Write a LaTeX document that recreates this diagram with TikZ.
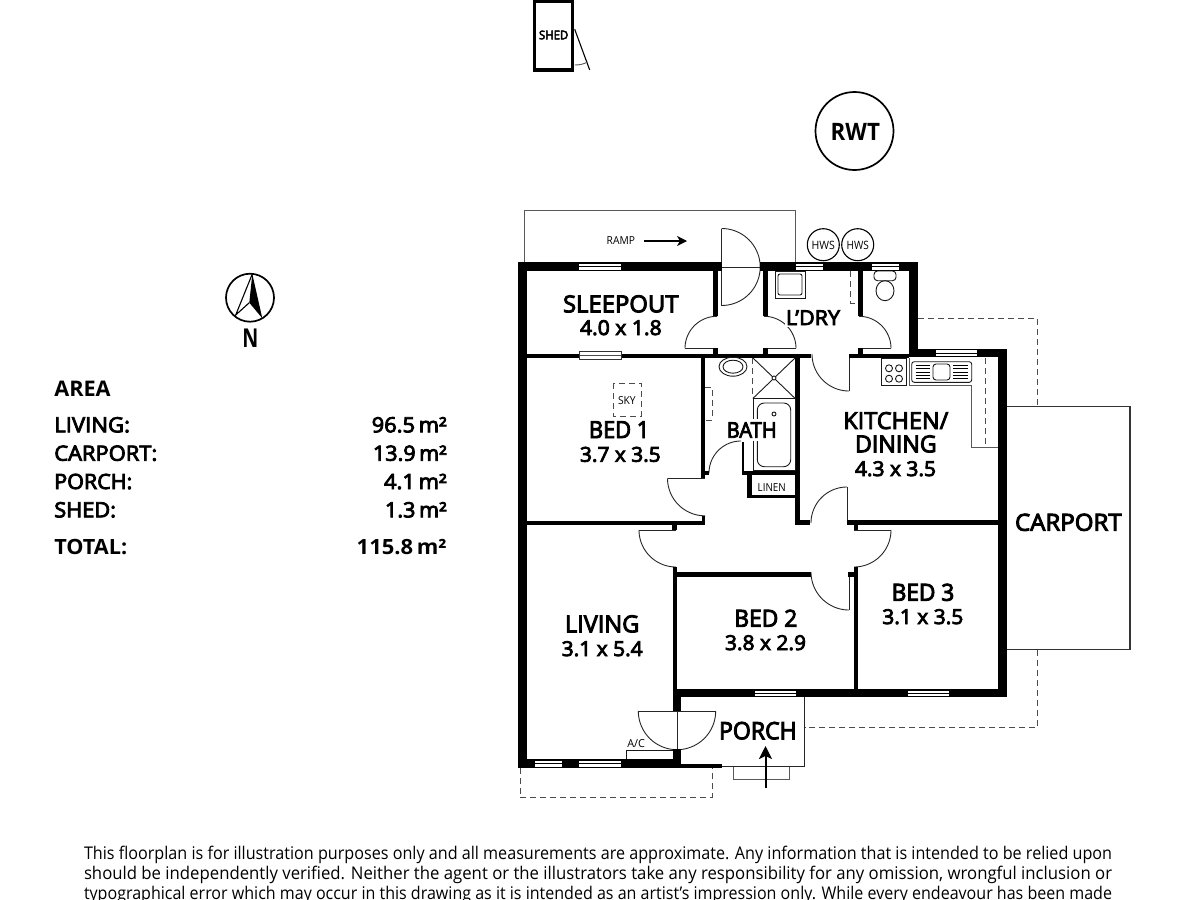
\documentclass[tikz,border=0pt]{standalone}
\usepackage{fontspec}
\usepackage{graphicx}
\usetikzlibrary{arrows.meta}
\setmainfont{Open Sans}
\newfontfamily\semi{Open Sans}[FakeBold=4]
\newfontfamily\hvy{Open Sans Bold}
\newcommand{\tlab}[7][\semi]{%
  \node[anchor=base west,inner sep=0pt,outer sep=0pt] (#2) at (#3,#5)
    {\resizebox{\dimexpr #4pt-#3pt\relax}{\height}{\fontsize{#6}{#6}\selectfont #1\strut #7}};}
\newcommand{\win}[4]{%
  \fill[white] (#1,#3) rectangle (#2,#4);
  \draw[line width=1pt,black] (#1,{(#3+#4)/2}) -- (#2,{(#3+#4)/2});}
\newcommand{\wl}[4]{\fill[black] (#1,#2) rectangle (#3,#4);}
\newcommand{\swing}[5]{\draw[thin line] plot[domain=#4:#5,samples=40] ({#1+#3*cos(\x)},{#2+#3*sin(\x)});}
\tikzset{
  thin line/.style={line width=0.9pt,draw=black!85},
  grey line/.style={line width=0.9pt,draw=black!65},
  dash line/.style={line width=1pt,draw=black!70,dash pattern=on 6pt off 4pt},
  fix line/.style={line width=0.9pt,draw=black!90}
}
\begin{document}
\begin{tikzpicture}[x=1pt,y=-1pt]
\useasboundingbox (0,0) rectangle (1200,900);
\clip (0,0) rectangle (1200,900);
% ---------- shed
\draw[line width=3.4pt] (534.5,1.2) rectangle (572.3,70);
\draw[line width=1.1pt] (574.7,29.3) -- (589.7,70);
\draw[grey line] (574.7,65) .. controls (580,65) and (584,64) .. (587.5,62);
% ---------- RWT
\node[circle,draw,line width=1.7pt,minimum size=78pt,inner sep=0pt] (rwt) at (854.5,131) {};
% ---------- north
\node[circle,draw,line width=1.7pt,minimum size=48pt,inner sep=0pt] (north) at (250,297.7) {};
\draw[line width=1.1pt,line join=miter] (252.3,274) -- (235.7,315) -- (249.3,302.7);
\fill (252.3,274) -- (262.3,318.3) -- (249.3,302.7) -- cycle;
% ---------- ramp, carport, dashed outlines
\draw[grey line] (524.7,262) -- (524.7,210) -- (795.7,210) -- (795.7,262);
\draw[line width=1.1pt,-{Stealth[length=10pt,width=10pt,inset=3pt]}] (644,241) -- (687,241);
\draw[line width=1.1pt,draw=black!80] (1007,406.7) -- (1130,406.7) -- (1130,649.5) -- (1007,649.5);
\draw[dash line] (918,318.7) -- (1037.5,318.7) -- (1037.5,406);
\draw[dash line] (1037.7,650) -- (1037.7,727.7) -- (805,727.7);
\draw[dash line] (520,768) -- (520,797.7) -- (712,797.7) -- (712,768);
\draw[dash line] (850.8,271) -- (850.8,303.3) -- (858,303.3);
% ---------- door swings
\swing{721.7}{267}{38.5}{-90}{90}
\draw[thin line] (721.7,228.5) -- (721.7,305.5) (721.7,267) -- (760,267);
\swing{717}{348.3}{32}{180}{270}
\draw[thin line] (685,348.3) -- (714,348.3);
\swing{764}{348.3}{32}{270}{360}
\draw[thin line] (764,348.3) -- (796,348.3);
\swing{859}{348.3}{32}{270}{360}
\draw[thin line] (859,348.3) -- (891,348.3);
\swing{849}{354}{37}{90}{180}
\draw[thin line] (849,355) -- (849,391);
\swing{847}{523}{36}{180}{270}
\draw[thin line] (847,487) -- (847,524);
\swing{854}{530}{37}{0}{90}
\draw[thin line] (854,530) -- (890.7,530);
\swing{849}{572}{38}{90}{180}
\draw[thin line] (849.3,572) -- (849.3,610);
\swing{676}{530}{37}{90}{180}
\draw[thin line] (639,530) -- (676,530);
\swing{705}{478.3}{37.5}{90}{180}
\draw[thin line] (667.5,478.3) -- (705,478.3);
\swing{741}{473}{32}{180}{270}
\swing{677}{711}{38.7}{0}{180}
\draw[thin line] (638.3,711) -- (715.7,711) (677,711) -- (677,749);
% ---------- walls
\wl{518}{262.3}{721.7}{271}
\wl{760}{262.3}{917.7}{271}
\wl{518}{262.3}{527}{767.7}
\wl{518}{759.3}{681}{767.7}
\wl{681}{763.7}{722.3}{767.7}
\wl{713.3}{271}{718}{315.5}
\wl{763.2}{271}{767.5}{315.7}
\wl{858.3}{271}{862.7}{315.7}
\wl{909.3}{262.3}{917.7}{357}
\wl{527}{353.5}{811}{358}
\wl{713.3}{348.3}{718}{354}
\wl{763.2}{348.3}{767.5}{354}
\wl{858.3}{348.3}{862.7}{354}
\wl{849}{354}{909.3}{358}
\wl{909.3}{349}{1007.3}{357.3}
\wl{998.3}{349}{1007.3}{697.3}
\wl{701}{358}{705.3}{478.3}
\wl{705}{470.7}{709}{475}
\wl{741.7}{442.3}{744}{475}
\wl{741.7}{470.7}{795}{475}
\wl{747}{475}{751.7}{498.3}
\wl{747}{495}{795}{498.3}
\wl{795}{358}{800}{525}
\wl{795}{520.3}{810}{525}
\wl{527}{520.7}{705}{525}
\wl{701.7}{515.7}{705}{521}
\wl{672}{525}{676.7}{530}
\wl{846.7}{520.3}{998.3}{525}
\wl{853.5}{525}{858}{530}
\wl{853.5}{566.7}{858}{689}
\wl{848}{571.7}{853.5}{576.7}
\wl{672.7}{566.7}{676.7}{689}
\wl{673}{572.3}{811}{576.7}
\wl{672.7}{689}{1007.3}{697.3}
\wl{672.7}{689}{681}{711}
\wl{672.7}{749}{681}{767.7}
% ---------- windows
\win{579.3}{620.7}{263.7}{269.8}
\win{796}{822.7}{263.7}{269.8}
\win{872.3}{899.3}{263.7}{269.8}
\win{936}{977.3}{350.3}{356.2}
\win{755}{795.7}{690.5}{696}
\win{907.7}{948.7}{690.5}{696}
\win{535}{562}{760.5}{766.5}
\win{579.3}{620.7}{760.5}{766.5}
\fill[white,draw=black!80,line width=0.8pt] (579,351.7) rectangle (621.7,359);
\fill[black!70] (579.5,354.7) rectangle (621.2,356);
% ---------- porch
\draw[line width=1.1pt,draw=black!85] (804.5,697) -- (804.5,766.7) -- (722,766.7);
\draw[grey line] (733.3,767) -- (733.3,779) -- (789,779) -- (789,767);
\draw[line width=2pt,-{Stealth[length=13pt,width=13pt,inset=3pt]}] (765.5,788) -- (765.5,746);
\draw[fix line] (626.7,759.3) -- (626.7,750.7) -- (672.7,750.7);
% ---------- HWS
\node[circle,draw,line width=1.1pt,minimum size=32pt,inner sep=0pt] (hwsa) at (823.3,244.7) {};
\node[circle,draw,line width=1.1pt,minimum size=32pt,inner sep=0pt] (hwsb) at (857.7,244.7) {};
% ---------- laundry and WC fixtures
\draw[fix line] (775,271) rectangle (805.7,298.7);
\draw[fix line,rounded corners=2pt] (778,274) rectangle (802,295);
\draw[fix line,rounded corners=3.5pt,fill=white] (874,271) rectangle (896,280.7);
\draw[fix line] (885,290.7) ellipse [x radius=9,y radius=10];
% ---------- kitchen fixtures
\draw[grey line] (909,358) -- (909,385) -- (971,385) -- (971,447.3) -- (998.3,447.3);
\draw[dash line] (985.7,358) -- (985.7,447);
\draw[fix line] (881,358) rectangle (906.7,385);
\foreach \cx in {889,899} \foreach \cy in {368.3,378.7} \draw[fix line] (\cx,\cy) circle [radius=3.5];
\draw[fix line,rounded corners=2.5pt] (911.7,361.7) rectangle (971.7,382.3);
\draw[fix line,rounded corners=3pt] (933,364) rectangle (950,380);
\foreach \ly in {365.5,368.8,372,375.2,378.5} \draw[line width=0.7pt] (915.7,\ly) -- (930,\ly) (953,\ly) -- (968,\ly);
% ---------- bathroom fixtures
\draw[fix line] (733,366.7) ellipse [x radius=14,y radius=9.5];
\draw[fix line] (733,366.7) ellipse [x radius=10,y radius=6.5];
\draw[dash line] (752.7,358) -- (752.7,398);
\draw[fix line] (753,358) -- (795,398.3) (795,358) -- (753,398.3);
\draw[grey line] (753,398.3) -- (795,398.3);
\draw[fix line,fill=white] (774,378) circle [radius=2];
\draw[fix line] (753,398.5) rectangle (795,470.7);
\draw[fix line,rounded corners=7pt] (757.3,403) rectangle (790.7,466.7);
\draw[fix line] (774,414) circle [radius=2];
\draw[dash line] (705.3,387.3) -- (712.3,387.3) -- (712.3,420) -- (705.3,420);
\draw[dash line] (613.3,383) rectangle (641.3,416);
% ---------- white halos behind labels that cross lines
\fill[white] (745,419) rectangle (778,441);
\fill[white] (785,308) rectangle (841,327);
% ---------- text
\tlab[\semi]{lsleep}{563}{678.5}{312.3}{23.5}{SLEEPOUT}
\tlab[\semi]{dsleep}{580}{661.7}{335}{20.5}{4.0 x 1.8}
\tlab[\semi]{lldry}{786}{840}{325}{20.5}{L’DRY}
\tlab[\semi]{lbed1}{589}{649.3}{438}{23.5}{BED 1}
\tlab[\semi]{dbed1}{580}{660.7}{461.7}{20.5}{3.7 x 3.5}
\tlab[\semi]{lbath}{726.7}{776.7}{437.7}{21.5}{BATH}
\tlab[\semi]{lkit}{843.3}{948.3}{429}{23.5}{KITCHEN/}
\tlab[\semi]{ldin}{855}{936.7}{452.3}{23.5}{DINING}
\tlab[\semi]{dkit}{855}{936}{476}{20.5}{4.3 x 3.5}
\tlab[\semi]{lcar}{1015}{1121.7}{530.7}{23.5}{CARPORT}
\tlab[\semi]{lliv}{565}{639.3}{632.3}{23.5}{LIVING}
\tlab[\semi]{dliv}{561.7}{642.7}{656}{20.5}{3.1 x 5.4}
\tlab[\semi]{lbed2}{734.3}{797.3}{626.7}{23.5}{BED 2}
\tlab[\semi]{dbed2}{725}{806}{650}{20.5}{3.8 x 2.9}
\tlab[\semi]{lbed3}{891.7}{954.3}{600.7}{23.5}{BED 3}
\tlab[\semi]{dbed3}{882.3}{963.3}{624}{20.5}{3.1 x 3.5}
\tlab[\semi]{lporch}{719}{796.7}{739.3}{24}{PORCH}
\tlab[\hvy]{lrwt}{830.7}{880}{140}{24}{RWT}
\tlab[\hvy]{ln}{242.3}{258.3}{347.3}{26}{N}
\tlab[\semi]{lshed}{539}{568.3}{39.3}{12}{SHED}
\tlab[\rmfamily]{lhwsa}{811.7}{835}{249}{11.5}{HWS}
\tlab[\rmfamily]{lhwsb}{846.7}{869}{249}{11.5}{HWS}
\tlab[\rmfamily]{lramp}{606.7}{635}{244}{11}{RAMP}
\tlab[\rmfamily]{llinen}{757.7}{785.7}{491.7}{11}{LINEN}
\tlab[\rmfamily]{lsky}{618}{635.7}{404}{11}{SKY}
\tlab[\rmfamily]{lac}{627.3}{645}{747.3}{11}{A/C}
% ---------- area table
\tlab[\hvy]{tarea}{54.3}{110.7}{396}{21.5}{AREA}
\tlab[\semi]{tliv}{54.3}{130}{432.3}{21}{LIVING:}
\tlab[\semi]{tcar}{54.3}{157.3}{460.7}{21}{CARPORT:}
\tlab[\semi]{tpor}{54.3}{132.3}{489}{21}{PORCH:}
\tlab[\semi]{tshe}{54.3}{116}{517.3}{21}{SHED:}
\tlab[\hvy]{ttot}{54.3}{127.3}{554}{21}{TOTAL:}
\tlab[\semi]{vliv}{371.7}{446.7}{432.3}{21}{96.5\,m²}
\tlab[\semi]{vcar}{373}{446.7}{460.7}{21}{13.9\,m²}
\tlab[\semi]{vpor}{384}{446.7}{489}{21}{4.1\,m²}
\tlab[\semi]{vshe}{385}{446.7}{517.3}{21}{1.3\,m²}
\tlab[\hvy]{vtot}{356.7}{446.7}{554}{21}{115.8\,m²}
% ---------- footer
\tlab[\rmfamily]{fa}{84}{1112}{859.7}{17.5}{This floorplan is for illustration purposes only and all measurements are approximate. Any information that is intended to be relied upon}
\tlab[\rmfamily]{fb}{84}{1112}{879.5}{17.5}{should be independently verified. Neither the agent or the illustrators take any responsibility for any omission, wrongful inclusion or}
\tlab[\rmfamily]{fc}{84}{1112}{899}{17.5}{typographical error which may occur in this drawing as it is intended as an artist’s impression only. While every endeavour has been made}
\end{tikzpicture}
\end{document}
